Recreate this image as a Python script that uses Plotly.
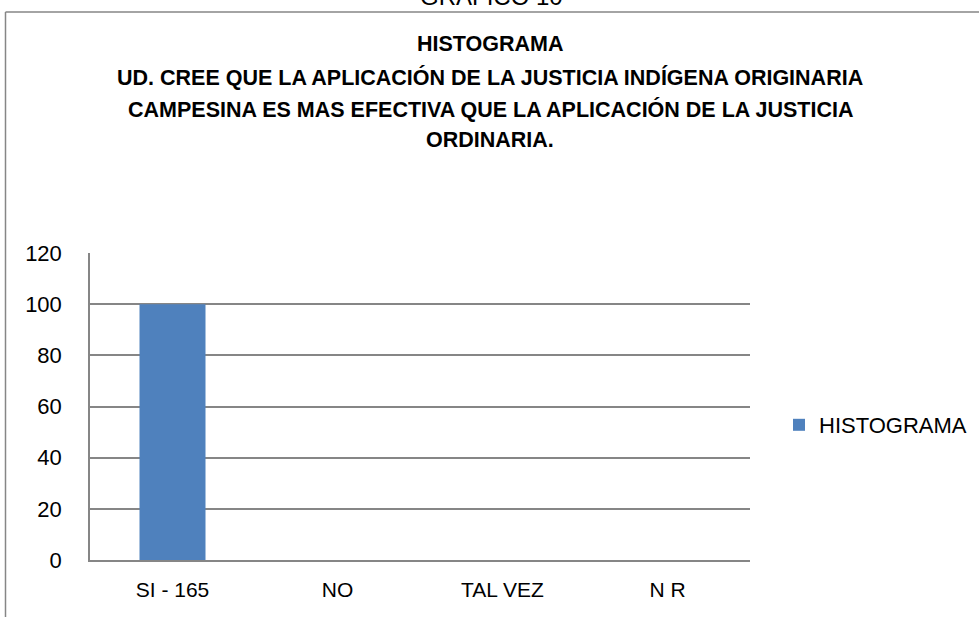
import plotly.graph_objects as go

categories = ["SI - 165", "NO", "TAL VEZ", "N R"]
values = [100, 0, 0, 0]
series_name = "HISTOGRAMA"
title_lines = [
    "HISTOGRAMA",
    "UD. CREE QUE LA APLICACIÓN DE LA JUSTICIA INDÍGENA ORIGINARIA",
    "CAMPESINA ES MAS EFECTIVA QUE LA APLICACIÓN DE LA JUSTICIA",
    "ORDINARIA.",
]
header = "GRAFICO 10"

W, H = 979, 617
L, R, T, B = 90, 229, 253, 57
pw, ph = W - L - R, H - T - B

def px_x(x):
    return (x - L) / pw

def px_y(y):
    return (H - B - y) / ph

FONT = "Liberation Sans"

fig = go.Figure(go.Bar(
    x=categories, y=values, name=series_name,
    marker=dict(color="#4F81BD", line=dict(width=0)),
    width=0.4, showlegend=True,
))

annotations = []
line_y = [44, 77, 109, 140]
for txt, yy in zip(title_lines, line_y):
    annotations.append(dict(
        text="<b>" + txt + "</b>", x=px_x(490), y=px_y(yy), xref="paper", yref="paper",
        showarrow=False, xanchor="center", yanchor="middle",
        font=dict(family=FONT, size=21.5, color="#000000"),
    ))
annotations.append(dict(
    text=header, x=px_x(491), y=px_y(-4), xref="paper", yref="paper",
    showarrow=False, xanchor="center", yanchor="middle",
    font=dict(family=FONT, size=24, color="#000000"),
))

shapes = [
    dict(type="line", xref="paper", yref="paper", x0=px_x(5.5), x1=px_x(5.5), y0=px_y(12), y1=px_y(620),
         line=dict(color="#868686", width=1.5)),
    dict(type="line", xref="paper", yref="paper", x0=px_x(5.5), x1=px_x(985), y0=px_y(12), y1=px_y(12),
         line=dict(color="#868686", width=1.5)),
]

fig.update_layout(
    width=W, height=H,
    margin=dict(l=L, r=R, t=T, b=B, autoexpand=False),
    paper_bgcolor="white", plot_bgcolor="white",
    font=dict(family=FONT, size=18, color="#000000"),
    annotations=annotations, shapes=shapes,
    legend=dict(x=px_x(779), y=px_y(425), xanchor="left", yanchor="middle",
                font=dict(family=FONT, size=22, color="#000000"),
                bgcolor="rgba(0,0,0,0)", itemwidth=30),
    xaxis=dict(showline=True, linecolor="#868686", linewidth=1.5, ticks="",
               tickfont=dict(size=21), showgrid=False, fixedrange=True,
               ticklabelstandoff=10),
    yaxis=dict(range=[0, 120], dtick=20, showline=True, linecolor="#868686", linewidth=1.5,
               showgrid=True, gridcolor="#868686", gridwidth=1.5, ticks="",
               tickfont=dict(size=22), ticklabelstandoff=22, zeroline=False, fixedrange=True),
)

fig.write_html("out.html", config={"displayModeBar": False},
               post_script="document.body.style.margin='0';document.body.style.overflow='hidden';")
